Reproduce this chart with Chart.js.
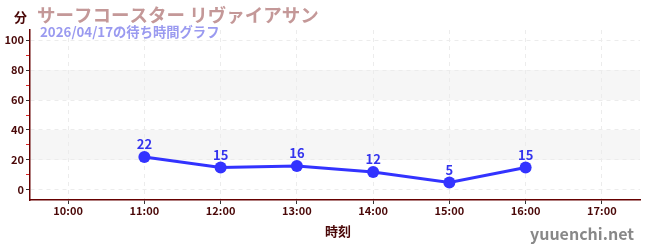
<!DOCTYPE html>
<html>
<head>
<meta charset="utf-8">
<script src="https://cdn.jsdelivr.net/npm/chart.js@4"></script>
<style>
  html, body { margin: 0; padding: 0; background: #fff; }
  #wrap { width: 650px; height: 250px; position: relative; }
</style>
</head>
<body>
<div id="wrap"><canvas id="chart"></canvas></div>
<script>
const FONT = '"Noto Sans CJK JP", "Noto Sans", sans-serif';

// data
const hours = ['10:00', '11:00', '12:00', '13:00', '14:00', '15:00', '16:00', '17:00'];
const waitMinutes = [null, 22, 15, 16, 12, 5, 15, null];
const yTickValues = [0, 10, 20, 30, 40, 50, 60, 70, 80, 90, 100];
const bandRanges = [[20, 40], [60, 80]];

const titleText = 'サーフコースター リヴァイアサン';
const subtitleText = '2026/04/17の待ち時間グラフ';
const yTitle = '分';
const xTitle = '時刻';
const siteText = 'yuuenchi.net';

// alternate bands behind the grid
const bandPlugin = {
    id: 'bands',
    beforeDraw(chart) {
        const { ctx, chartArea, scales } = chart;
        ctx.save();
        ctx.fillStyle = '#f6f6f6';
        bandRanges.forEach(([lo, hi]) => {
            const yTop = scales.y.getPixelForValue(hi);
            const yBot = scales.y.getPixelForValue(lo);
            ctx.fillRect(chartArea.left, yTop, chartArea.right - chartArea.left, yBot - yTop);
        });
        ctx.restore();
    }
};

// value labels above points + titles
const textPlugin = {
    id: 'texts',
    afterDatasetsDraw(chart) {
        const { ctx } = chart;
        const meta = chart.getDatasetMeta(0);
        ctx.save();
        ctx.font = 'bold 13px ' + FONT;
        ctx.fillStyle = '#3333ee';
        ctx.textAlign = 'center';
        ctx.textBaseline = 'bottom';
        meta.data.forEach((pt, i) => {
            const v = waitMinutes[i];
            if (v === null) return;
            ctx.fillText(String(v), pt.x, pt.y - 6);
        });
        ctx.restore();
    },
    afterDraw(chart) {
        const { ctx } = chart;
        ctx.save();
        ctx.textBaseline = 'middle';
        ctx.textAlign = 'left';
        ctx.font = 'bold 18.5px ' + FONT;
        ctx.fillStyle = '#c49898';
        ctx.fillText(titleText, 37, 15);
        ctx.font = 'bold 13.3px ' + FONT;
        ctx.fillStyle = '#9a9af0';
        ctx.fillText(subtitleText, 40, 32);
        ctx.font = 'bold 13px ' + FONT;
        ctx.fillStyle = '#4a0808';
        ctx.fillText(yTitle, 14, 17);
        ctx.textAlign = 'center';
        ctx.fillText(xTitle, 338, 231);
        ctx.textAlign = 'right';
        ctx.font = 'bold 16px ' + FONT;
        ctx.fillStyle = '#888888';
        ctx.fillText(siteText, 634, 234);
        ctx.restore();
    }
};

new Chart(document.getElementById('chart').getContext('2d'), {
    type: 'line',
    data: {
        labels: hours,
        datasets: [{
            data: waitMinutes,
            borderColor: '#3333ff',
            backgroundColor: '#3333ff',
            borderWidth: 3,
            pointRadius: 6,
            pointHoverRadius: 6,
            pointBackgroundColor: '#3333ff',
            pointBorderWidth: 0,
            tension: 0,
            spanGaps: false
        }]
    },
    options: {
        responsive: true,
        maintainAspectRatio: false,
        animation: false,
        devicePixelRatio: 1,
        layout: { padding: { top: 30, right: 10, left: 0, bottom: 0 } },
        plugins: {
            legend: { display: false },
            tooltip: { enabled: false }
        },
        scales: {
            x: {
                offset: true,
                afterFit(scale) { scale.height = 50; },
                grid: {
                    offset: false,
                    color: '#ececec',
                    tickColor: '#333333',
                    tickLength: 4,
                    drawOnChartArea: true
                },
                border: { color: '#660000', width: 1.5, dash: [4, 4] },
                ticks: {
                    color: '#4a0808',
                    font: { family: FONT, size: 11, weight: 'bold' },
                    padding: 0,
                    maxRotation: 0
                }
            },
            y: {
                min: -6.7,
                max: 106.7,
                afterFit(scale) { scale.width = 30; },
                afterBuildTicks(scale) {
                    scale.ticks = yTickValues.map(v => ({ value: v }));
                },
                grid: {
                    color: ctx => (ctx.tick && ctx.tick.value % 20 === 0) ? '#ececec' : 'rgba(0,0,0,0)',
                    tickColor: ctx => (ctx.tick && ctx.tick.value % 20 === 0) ? '#333333' : '#dd2222',
                    tickLength: 4
                },
                border: { color: '#660000', width: 1.5, dash: [4, 4] },
                ticks: {
                    color: '#4a0808',
                    font: { family: FONT, size: 11, weight: 'bold' },
                    padding: 2,
                    callback: v => (v % 20 === 0 ? v : '')
                }
            }
        }
    },
    plugins: [bandPlugin, textPlugin]
});
</script>
</body>
</html>
